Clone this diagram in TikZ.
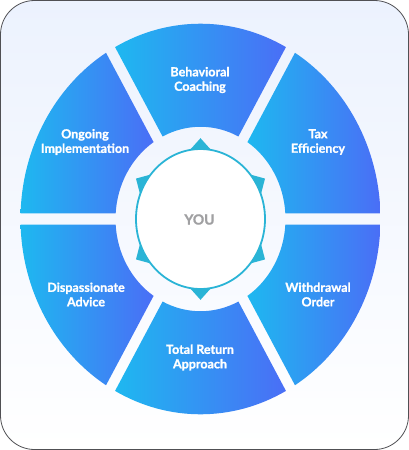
\documentclass[tikz,border=0pt]{standalone}
\usepackage{fontspec}
\setmainfont{Lato}[BoldFeatures={FakeBold=1.2}]
\usepackage{tikz}
\usetikzlibrary{positioning, calc}
\usepackage{xcolor}
\definecolor{wheelcyan}{RGB}{30,184,240}
\definecolor{wheelblue}{RGB}{74,110,246}
\definecolor{hubteal}{RGB}{42,180,214}
\definecolor{cardtop}{RGB}{236,242,254}
\definecolor{cardline}{RGB}{80,80,84}
\definecolor{yougray}{RGB}{160,160,162}

\begin{document}
\begin{tikzpicture}[x=1pt, y=-1pt,
  seg/.style={left color=wheelcyan, right color=wheelblue},
  lbl/.style={text=white, font=\bfseries\fontsize{12.5}{14.5}\selectfont, align=center}]
  \useasboundingbox (0,0) rectangle (409,450);
  \draw[rounded corners=34, draw=cardline, line width=0.8, top color=cardtop, bottom color=white] (0.5,0.5) rectangle (408.5,449.5);

  \begin{scope}[shift={(200.5,219)}, yscale=-1.085]
    \shade[seg] (1.66:180) arc[start angle=1.66, end angle=58.34, radius=180] -- (56.49:85) arc[start angle=56.49, end angle=3.51, radius=85] -- cycle;
    \shade[seg] (61.66:180) arc[start angle=61.66, end angle=118.34, radius=180] -- (116.49:85) arc[start angle=116.49, end angle=63.51, radius=85] -- cycle;
    \shade[seg] (121.66:180) arc[start angle=121.66, end angle=178.34, radius=180] -- (176.49:85) arc[start angle=176.49, end angle=123.51, radius=85] -- cycle;
    \shade[seg] (181.66:180) arc[start angle=181.66, end angle=238.34, radius=180] -- (236.49:85) arc[start angle=236.49, end angle=183.51, radius=85] -- cycle;
    \shade[seg] (241.66:180) arc[start angle=241.66, end angle=298.34, radius=180] -- (296.49:85) arc[start angle=296.49, end angle=243.51, radius=85] -- cycle;
    \shade[seg] (301.66:180) arc[start angle=301.66, end angle=358.34, radius=180] -- (356.49:85) arc[start angle=356.49, end angle=303.51, radius=85] -- cycle;

    \fill[hubteal] (90:74.5) -- (120:54) -- (150:74.5) -- (180:54) -- (210:74.5) -- (240:54)
      -- (270:74.5) -- (300:54) -- (330:74.5) -- (0:54) -- (30:74.5) -- (60:54) -- cycle;
    \draw[draw=hubteal, line width=1.8, fill=white] (0,0) circle[radius=64.5];
  \end{scope}

  \node[lbl] (coach) at (200,80) {Behavioral\\Coaching};
  \node[lbl] (tax) at (318,142) {Tax\\Efficiency};
  \node[lbl] (ongoing) at (85,142) {Ongoing\\Implementation};
  \node[lbl] (dispassionate) at (86,294.5) {Dispassionate\\Advice};
  \node[lbl] (withdrawal) at (318,294.5) {Withdrawal\\Order};
  \node[lbl] (totalreturn) at (200,357.5) {Total Return\\Approach};
  \node[text=yougray, font=\bfseries\fontsize{14}{16}\selectfont] (you) at (199.5,219.5) {YOU};
\end{tikzpicture}
\end{document}
